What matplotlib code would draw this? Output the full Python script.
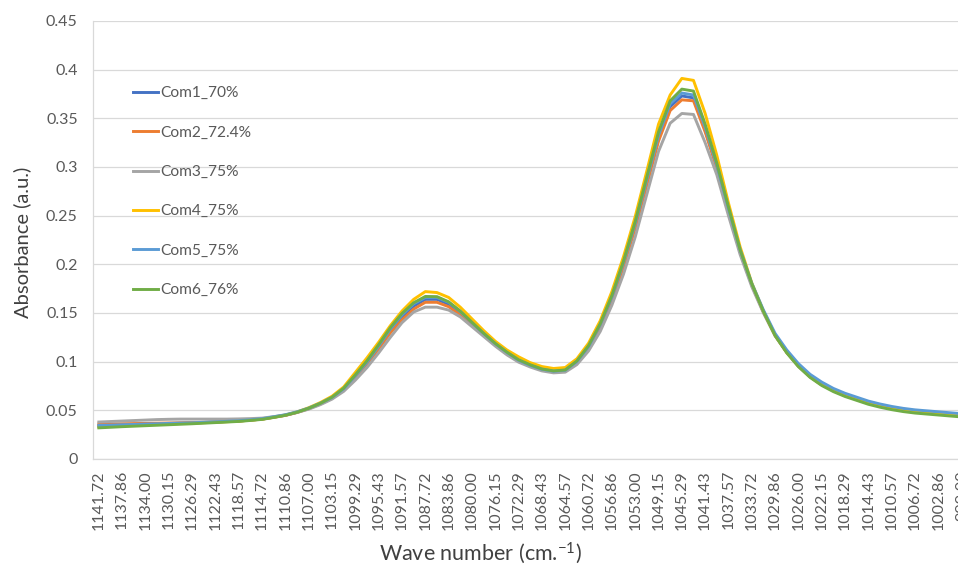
import numpy as np
import matplotlib
matplotlib.use("Agg")
import matplotlib.pyplot as plt

# x tick labels (every second category), wave numbers in cm-1
wave_labels = ["1141.72", "1137.86", "1134.00", "1130.15", "1126.29", "1122.43",
               "1118.57", "1114.72", "1110.86", "1107.00", "1103.15", "1099.29",
               "1095.43", "1091.57", "1087.72", "1083.86", "1080.00", "1076.15",
               "1072.29", "1068.43", "1064.57", "1060.72", "1056.86", "1053.00",
               "1049.15", "1045.29", "1041.43", "1037.57", "1033.72", "1029.86",
               "1026.00", "1022.15", "1018.29", "1014.43", "1010.57", "1006.72",
               "1002.86", "999.00"]

names = ["Com1_70%", "Com2_72.4%", "Com3_75%", "Com4_75%", "Com5_75%", "Com6_76%"]
colors = ["#4472C4", "#ED7D31", "#A5A5A5", "#FFC000", "#5B9BD5", "#70AD47"]

com1 = [0.0340, 0.0345, 0.0350, 0.0353, 0.0357, 0.0360, 0.0364, 0.0367, 0.0370, 0.0375,
        0.0380, 0.0385, 0.0390, 0.0400, 0.0410, 0.0430, 0.0450, 0.0480, 0.0520, 0.0570,
        0.0630, 0.0720, 0.0850, 0.0990, 0.1150, 0.1320, 0.1460, 0.1570, 0.1640, 0.1640,
        0.1590, 0.1500, 0.1390, 0.1280, 0.1180, 0.1090, 0.1010, 0.0960, 0.0920, 0.0900,
        0.0910, 0.1000, 0.1150, 0.1370, 0.1650, 0.2000, 0.2400, 0.2850, 0.3300, 0.3620,
        0.3730, 0.3710, 0.3380, 0.3000, 0.2560, 0.2130, 0.1790, 0.1510, 0.1270, 0.1100,
        0.0960, 0.0850, 0.0770, 0.0710, 0.0660, 0.0620, 0.0580, 0.0550, 0.0525, 0.0505,
        0.0490, 0.0480, 0.0470, 0.0460, 0.0450]

com2 = [0.0360, 0.0360, 0.0362, 0.0364, 0.0366, 0.0368, 0.0370, 0.0372, 0.0374, 0.0377,
        0.0381, 0.0386, 0.0391, 0.0400, 0.0410, 0.0428, 0.0448, 0.0478, 0.0516, 0.0565,
        0.0625, 0.0712, 0.0838, 0.0975, 0.1130, 0.1295, 0.1430, 0.1540, 0.1610, 0.1610,
        0.1565, 0.1480, 0.1375, 0.1270, 0.1170, 0.1080, 0.1005, 0.0955, 0.0915, 0.0898,
        0.0908, 0.0995, 0.1140, 0.1355, 0.1630, 0.1975, 0.2370, 0.2815, 0.3265, 0.3580,
        0.3690, 0.3680, 0.3360, 0.2990, 0.2555, 0.2130, 0.1790, 0.1510, 0.1270, 0.1095,
        0.0955, 0.0845, 0.0762, 0.0702, 0.0652, 0.0612, 0.0572, 0.0542, 0.0517, 0.0497,
        0.0482, 0.0472, 0.0462, 0.0452, 0.0442]

com3 = [0.0380, 0.0385, 0.0390, 0.0395, 0.0400, 0.0405, 0.0408, 0.0410, 0.0410, 0.0410,
        0.0410, 0.0410, 0.0412, 0.0415, 0.0420, 0.0435, 0.0452, 0.0478, 0.0512, 0.0558,
        0.0615, 0.0695, 0.0810, 0.0940, 0.1090, 0.1250, 0.1400, 0.1510, 0.1560, 0.1560,
        0.1530, 0.1460, 0.1360, 0.1260, 0.1160, 0.1070, 0.0995, 0.0945, 0.0905, 0.0885,
        0.0892, 0.0970, 0.1110, 0.1310, 0.1580, 0.1900, 0.2280, 0.2720, 0.3160, 0.3450,
        0.3550, 0.3540, 0.3250, 0.2920, 0.2500, 0.2100, 0.1770, 0.1500, 0.1265, 0.1095,
        0.0955, 0.0845, 0.0762, 0.0702, 0.0652, 0.0612, 0.0572, 0.0542, 0.0517, 0.0497,
        0.0482, 0.0472, 0.0462, 0.0452, 0.0442]

com4 = [0.0330, 0.0336, 0.0342, 0.0347, 0.0352, 0.0356, 0.0360, 0.0364, 0.0368, 0.0373,
        0.0378, 0.0383, 0.0389, 0.0399, 0.0409, 0.0430, 0.0452, 0.0484, 0.0527, 0.0580,
        0.0645, 0.0740, 0.0890, 0.1040, 0.1200, 0.1370, 0.1520, 0.1640, 0.1720, 0.1710,
        0.1660, 0.1560, 0.1440, 0.1320, 0.1210, 0.1120, 0.1050, 0.0990, 0.0950, 0.0930,
        0.0940, 0.1030, 0.1190, 0.1420, 0.1720, 0.2080, 0.2490, 0.2960, 0.3440, 0.3740,
        0.3910, 0.3890, 0.3550, 0.3120, 0.2630, 0.2180, 0.1810, 0.1520, 0.1270, 0.1095,
        0.0955, 0.0845, 0.0762, 0.0702, 0.0652, 0.0612, 0.0572, 0.0542, 0.0517, 0.0497,
        0.0482, 0.0472, 0.0462, 0.0452, 0.0442]

com5 = [0.0345, 0.0348, 0.0352, 0.0355, 0.0359, 0.0362, 0.0366, 0.0369, 0.0372, 0.0377,
        0.0382, 0.0387, 0.0393, 0.0403, 0.0414, 0.0434, 0.0455, 0.0485, 0.0523, 0.0573,
        0.0632, 0.0722, 0.0855, 0.0995, 0.1160, 0.1335, 0.1480, 0.1595, 0.1660, 0.1660,
        0.1610, 0.1515, 0.1400, 0.1290, 0.1185, 0.1095, 0.1015, 0.0962, 0.0922, 0.0902,
        0.0912, 0.1002, 0.1155, 0.1380, 0.1665, 0.2020, 0.2420, 0.2875, 0.3325, 0.3650,
        0.3760, 0.3740, 0.3410, 0.3020, 0.2575, 0.2150, 0.1805, 0.1530, 0.1290, 0.1120,
        0.0980, 0.0870, 0.0790, 0.0725, 0.0675, 0.0635, 0.0595, 0.0565, 0.0540, 0.0520,
        0.0505, 0.0495, 0.0485, 0.0475, 0.0465]

com6 = [0.0320, 0.0326, 0.0332, 0.0337, 0.0342, 0.0347, 0.0352, 0.0357, 0.0362, 0.0368,
        0.0374, 0.0380, 0.0386, 0.0396, 0.0407, 0.0427, 0.0449, 0.0480, 0.0521, 0.0572,
        0.0635, 0.0728, 0.0865, 0.1010, 0.1175, 0.1350, 0.1495, 0.1605, 0.1670, 0.1668,
        0.1615, 0.1520, 0.1405, 0.1292, 0.1188, 0.1098, 0.1020, 0.0968, 0.0925, 0.0905,
        0.0915, 0.1008, 0.1165, 0.1390, 0.1680, 0.2035, 0.2440, 0.2900, 0.3360, 0.3680,
        0.3800, 0.3780, 0.3440, 0.3040, 0.2590, 0.2150, 0.1800, 0.1515, 0.1268, 0.1090,
        0.0948, 0.0838, 0.0755, 0.0692, 0.0642, 0.0602, 0.0562, 0.0532, 0.0507, 0.0487,
        0.0472, 0.0462, 0.0452, 0.0442, 0.0432]

series = [com1, com2, com3, com4, com5, com6]

plt.rcParams['font.family'] = ['Lato', 'DejaVu Sans']
plt.rcParams['mathtext.fontset'] = 'custom'
plt.rcParams['mathtext.rm'] = 'Lato'
plt.rcParams['mathtext.it'] = 'Lato'
text_col = "#595959"
grid_col = "#D9D9D9"

fig = plt.figure(figsize=(9.58, 5.66), dpi=100)
ax = fig.add_axes([93 / 958, 1 - 459 / 566, (967.5 - 93) / 958, (459 - 21) / 566])

x = np.arange(len(com1))
for vals, name, col in zip(series, names, colors):
    ax.plot(x, vals, color=col, lw=2.1, label=name, solid_joinstyle="round")

ax.set_xlim(-0.5, len(com1) - 0.5)
ax.set_ylim(0, 0.45)
ax.set_yticks(np.arange(0, 0.451, 0.05))
ax.set_yticklabels(["0", "0.05", "0.1", "0.15", "0.2", "0.25", "0.3", "0.35", "0.4", "0.45"])
ax.set_xticks(np.arange(0, len(com1), 2))
ax.set_xticklabels(wave_labels, rotation=90)
ax.tick_params(axis="both", length=0, labelsize=11.5, labelcolor=text_col)
ax.tick_params(axis="y", pad=11)
ax.tick_params(axis="x", pad=8)

ax.grid(axis="y", color=grid_col, lw=0.9)
ax.set_axisbelow(True)
for s in ["top", "right"]:
    ax.spines[s].set_visible(False)
for s in ["left", "bottom"]:
    ax.spines[s].set_color(grid_col)
    ax.spines[s].set_linewidth(0.9)

fig.text(22 / 958, 1 - 242 / 566, "Absorbance (a.u.)", rotation=90, fontsize=14.5,
         color="#404040", ha="center", va="center")
fig.text(481 / 958, 1 - 553 / 566, "Wave number (cm.$^{-1}$)", fontsize=15.5,
         color="#404040", ha="center", va="center")

leg = ax.legend(loc="upper left", bbox_to_anchor=(0.03, 0.883), frameon=False,
                fontsize=11.2, handlelength=1.6, handletextpad=0.15, labelspacing=1.63)
for t in leg.get_texts():
    t.set_color(text_col)

fig.savefig("out.png", dpi=100)
